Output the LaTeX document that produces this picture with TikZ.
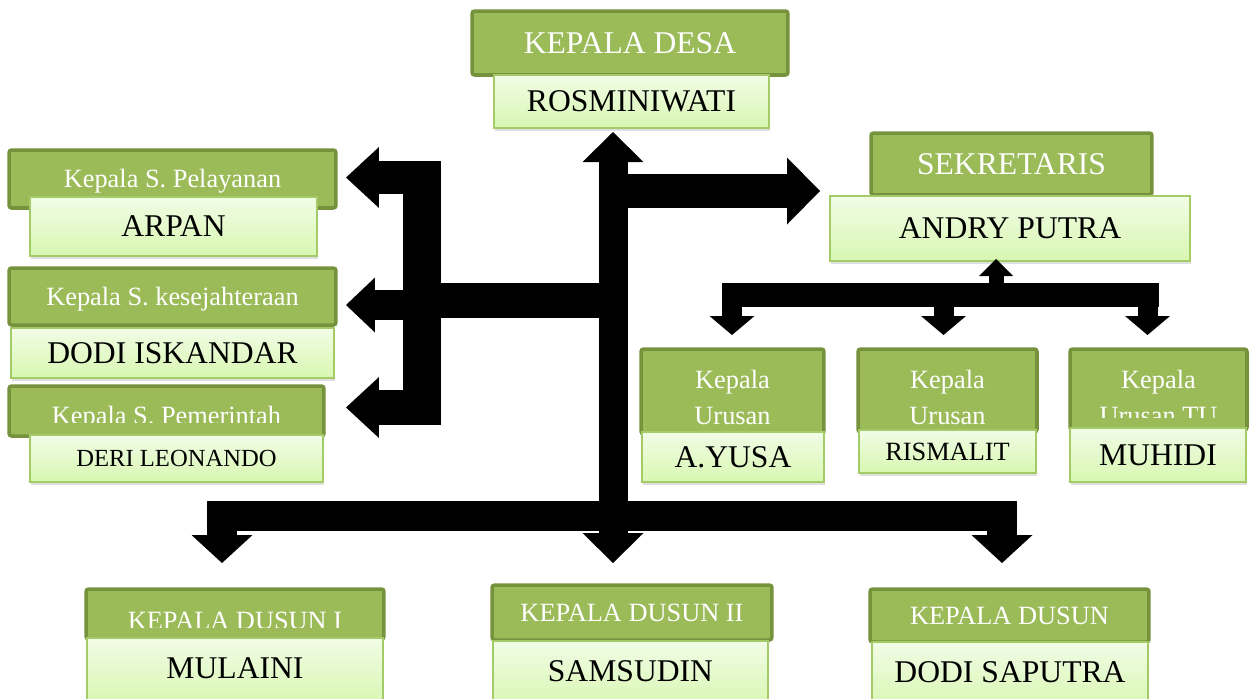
\documentclass[tikz,border=0pt]{standalone}
\usepackage{fontspec}
\setmainfont{Liberation Serif}
\usetikzlibrary{arrows.meta,shadows}
\definecolor{olivefill}{HTML}{9BBB59}
\definecolor{oliveline}{HTML}{76923C}
\definecolor{nametop}{HTML}{F1FCE6}
\definecolor{namebot}{HTML}{D8F7B1}
\definecolor{nameline}{HTML}{A3CB68}
\tikzset{
  greenbox/.style={draw=oliveline,fill=olivefill,line width=2pt,rounded corners=1.5pt,
    text=white,inner sep=0pt,font=\fontsize{15}{20.4}\selectfont},
  titlebox/.style={greenbox,text height=9.9pt,text depth=0pt},
  bigtitle/.style={titlebox,text height=11.9pt,font=\fontsize{18}{21}\selectfont},
  titletext/.style={text=white,inner sep=0pt,font=\fontsize{15}{20.4}\selectfont},
  namebox/.style={draw=nameline,line width=1.1pt,top color=nametop,bottom color=namebot,
    inner sep=0pt,text height=11.9pt,text depth=0pt,font=\fontsize{18}{21}\selectfont,
    drop shadow={shadow xshift=.8pt,shadow yshift=-1.6pt,opacity=.25}},
  smallname/.style={namebox,text height=9.9pt,font=\fontsize{15}{18}\selectfont},
  bottomname/.style={namebox,text depth=4.5pt},
  fat/.style={black,line width=#1,line join=miter,line cap=butt},
  trunkhead/.tip={Triangle[width=1.22cm,length=.6cm,line width=0pt]},
  sekhead/.tip={Triangle[width=1.34cm,length=.66cm,line width=0pt]},
  lefthead/.tip={Triangle[width=1.22cm,length=.66cm,line width=0pt]},
  midhead/.tip={Triangle[width=1.1cm,length=.58cm,line width=0pt]},
  bushead/.tip={Triangle[width=1.22cm,length=.56cm,line width=0pt]},
  uphead/.tip={Triangle[width=.68cm,length=.34cm,line width=0pt]},
  smallhead/.tip={Triangle[width=.9cm,length=.38cm,line width=0pt]},
}

\begin{document}
\begin{tikzpicture}[x=0.02cm,y=-0.02cm]
\clip (0,0) rectangle (1254,698);
\fill[white] (0,0) rectangle (1254,698);

% kepala desa
\node[bigtitle,minimum width=6.32cm,minimum height=1.28cm] (desa) at (630,43) {KEPALA DESA};
\node[namebox,minimum width=5.5cm,minimum height=1.06cm] (rosmin) at (631.5,101.5) {ROSMINIWATI};

% kepala seksi
\node[titlebox,minimum width=6.54cm,minimum height=1.16cm] (pel) at (172.5,179) {Kepala S. Pelayanan};
\node[namebox,minimum width=5.74cm,minimum height=1.18cm] (arpan) at (173.5,226.5) {ARPAN};
\node[titlebox,minimum width=6.54cm,minimum height=1.14cm] (kes) at (172.5,296.5) {Kepala S. kesejahteraan};
\node[namebox,minimum width=6.46cm,minimum height=1cm] (dodi) at (172.5,353) {DODI ISKANDAR};
\node[titlebox,minimum width=6.3cm,minimum height=1cm] (pem) at (166.5,411) {};
\begin{scope}
\clip (9,386) rectangle (324,422);
\node[titletext,anchor=base] (pemtxt) at (166.5,424.5) {Kepala S. Pemerintah};
\end{scope}
\node[namebox,text height=9.3pt,font=\fontsize{14}{17}\selectfont,minimum width=5.86cm,minimum height=.94cm] (deri) at (176.5,458.5) {DERI LEONANDO};

% sekretaris dan kepala urusan
\node[bigtitle,minimum width=5.62cm,minimum height=1.24cm] (sek) at (1011.5,164) {SEKRETARIS};
\node[namebox,minimum width=7.2cm,minimum height=1.3cm] (andry) at (1010,228.5) {ANDRY PUTRA};
\node[greenbox,minimum width=3.66cm,minimum height=1.7cm] (uru1) at (732.5,391.5) {};
\node[titletext,align=center] (uru1txt) at (732.5,397.5) {Kepala\\Urusan};
\node[namebox,minimum width=3.64cm,minimum height=1cm] (ayusa) at (733,457) {A.YUSA};
\node[greenbox,minimum width=3.58cm,minimum height=1.66cm] (uru2) at (947.5,390.5) {};
\node[titletext,align=center] (uru2txt) at (947.5,397.5) {Kepala\\Urusan};
\node[smallname,minimum width=3.54cm,minimum height=.86cm] (rismalit) at (947.5,451.5) {RISMALIT};
\node[greenbox,minimum width=3.54cm,minimum height=1.62cm] (uru3) at (1158.5,389.5) {};
\begin{scope}
\clip (1070,349) rectangle (1247,417);
\node[titletext,align=center] (uru3txt) at (1158.5,397.5) {Kepala\\Urusan TU};
\end{scope}
\node[namebox,minimum width=3.52cm,minimum height=1.08cm] (muhidi) at (1158,455) {MUHIDI};

% kepala dusun
\node[titlebox,minimum width=5.96cm,minimum height=1cm] (dus1) at (235,614) {};
\begin{scope}
\clip (86,589) rectangle (384,627);
\node[titletext,anchor=base] (dus1txt) at (235,629) {KEPALA DUSUN I};
\end{scope}
\node[bottomname,minimum width=5.92cm,minimum height=1.34cm] (mulaini) at (235,671.5) {MULAINI};
\node[titlebox,minimum width=5.6cm,minimum height=1.1cm] (dus2) at (632,612.5) {KEPALA DUSUN II};
\node[bottomname,minimum width=5.5cm,minimum height=1.34cm] (samsudin) at (630.5,674.5) {SAMSUDIN};
\node[titlebox,minimum width=5.58cm,minimum height=1.06cm] (dus3) at (1009.5,615.5) {KEPALA DUSUN};
\node[bottomname,minimum width=5.52cm,minimum height=1.34cm] (saputra) at (1010,675.5) {DODI SAPUTRA};

% junctions and arrow ends
\coordinate (trktop) at (613,132);
\coordinate (trkbot) at (613,563);
\coordinate (trksek) at (613,191);
\coordinate (sektip) at (820,191);
\coordinate (trkmid) at (613,300.5);
\coordinate (brmid) at (422,300.5);
\coordinate (brtop) at (422,161);
\coordinate (brbot) at (422,425);
\coordinate (lj1) at (422,177.5);
\coordinate (lt1) at (346,177.5);
\coordinate (lj2) at (422,305);
\coordinate (lt2) at (346,305);
\coordinate (lj3) at (422,407.5);
\coordinate (lt3) at (346,407.5);
\coordinate (trkbus) at (613,516);
\coordinate (bl) at (222,563);
\coordinate (br) at (1002,563);
\coordinate (sbl) at (722,295);
\coordinate (sbr) at (1159,295);
\coordinate (supfoot) at (996,286);
\coordinate (suptip) at (996,259);
\coordinate (sd1) at (732,335);
\coordinate (sd2) at (943.5,335);
\coordinate (sd3) at (1147.5,335);

% block arrows
\draw[fat=.58cm,trunkhead-trunkhead] (trktop) -- (trkbot);
\draw[fat=.68cm,-sekhead] (trksek) -- (sektip);
\draw[fat=.7cm] (brmid) -- (trkmid);
\draw[fat=.76cm] (brtop) -- (brbot);
\draw[fat=.66cm,-lefthead] (lj1) -- (lt1);
\draw[fat=.6cm,-midhead] (lj2) -- (lt2);
\draw[fat=.7cm,-lefthead] (lj3) -- (lt3);
\draw[fat=.6cm,bushead-bushead] (bl) |- (trkbus) -| (br);
\draw[fat=.48cm] (sbl) -- (sbr);
\draw[fat=.3cm,-uphead] (supfoot) -- (suptip);
\draw[fat=.4cm,-smallhead] (sd1 |- sbl) -- (sd1);
\draw[fat=.4cm,-smallhead] (sd2 |- sbl) -- (sd2);
\draw[fat=.4cm,-smallhead] (sd3 |- sbl) -- (sd3);
\end{tikzpicture}
\end{document}
